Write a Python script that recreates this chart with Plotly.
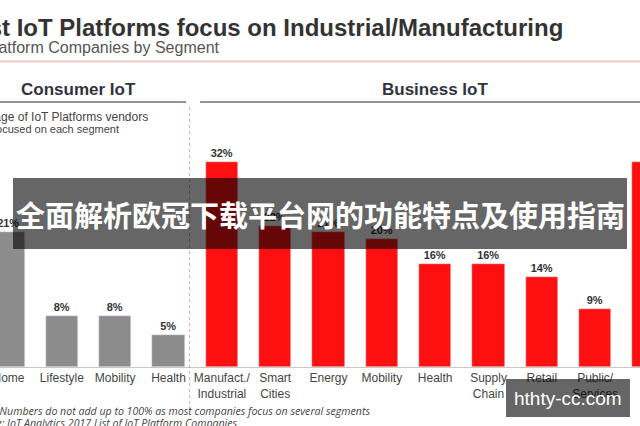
import plotly.graph_objects as go

# ---- data ----
consumer_cats = ["Home", "Lifestyle", "Mobility", "Health"]
consumer_vals = [21, 8, 8, 5]
business_cats = ["Manufact./<br>Industrial", "Smart<br>Cities", "Energy", "Mobility",
                 "Health", "Supply<br>Chain", "Retail", "Public/<br>Services", "Other<br>business"]
business_vals = [32, 22, 21, 20, 16, 16, 14, 9, 32]

title_text = "Most IoT Platforms focus on Industrial/Manufacturing"
subtitle_text = "Share of IoT Platform Companies by Segment"
consumer_header = "Consumer IoT"
business_header = "Business IoT"
note_line1 = "Percentage of IoT Platforms vendors"
note_line2 = "focused on each segment"
foot1 = "Note: Numbers do not add up to 100% as most companies focus on several segments"
foot2 = "Source: IoT Analytics 2017 List of IoT Platform Companies"
banner_text = "全面解析欧冠下载平台网的功能特点及使用指南"
watermark_text = "hthty-cc.com"

W, H = 640, 426
def px(x):
    return x / W
def py(y):
    return 1 - y / H

n_c = len(consumer_cats)
xc = list(range(n_c))
xb = list(range(n_c, n_c + len(business_cats)))

fig = go.Figure()
fig.add_bar(x=xc, y=consumer_vals, marker_color="#8c8c8c", width=0.61,
            text=[f"{v}%" for v in consumer_vals], textposition="outside",
            textfont=dict(family="Liberation Sans", size=11, color="#333333", weight="bold"),
            cliponaxis=False, showlegend=False)
fig.add_bar(x=xb, y=business_vals, marker_color="#fe1010", width=0.61,
            text=[f"{v}%" for v in business_vals], textposition="outside",
            textfont=dict(family="Liberation Sans", size=11, color="#333333", weight="bold"),
            cliponaxis=False, showlegend=False)

baseline = 367
ppu = 6.42
fig.update_layout(
    width=W, height=H, margin=dict(l=0, r=0, t=0, b=0, autoexpand=False),
    paper_bgcolor="white", plot_bgcolor="white", bargap=0,
    xaxis=dict(range=[-0.16, 11.84], tickvals=xc + xb, ticktext=consumer_cats + business_cats,
               tickfont=dict(family="Liberation Sans", size=12, color="#444444"),
               ticklabeloverflow="allow", automargin=False,
               showgrid=False, zeroline=False, showline=True, linecolor="#c8c8c8", linewidth=1,
               ticks="", fixedrange=True),
    yaxis=dict(domain=[(H - baseline) / H, 1], range=[0, baseline / ppu], visible=False,
               showgrid=False, zeroline=False, fixedrange=True, automargin=False),
    font=dict(family="Liberation Sans"),
)

shapes = [
    dict(type="line", xref="paper", yref="paper", x0=0, x1=1, y0=py(61.5), y1=py(61.5),
         line=dict(color="#ecc8c8", width=2)),
    dict(type="line", xref="paper", yref="paper", x0=0, x1=px(186), y0=py(102), y1=py(102),
         line=dict(color="rgba(110,110,135,0.75)", width=2)),
    dict(type="line", xref="paper", yref="paper", x0=px(200), x1=1, y0=py(102), y1=py(102),
         line=dict(color="rgba(110,110,135,0.75)", width=2)),
    dict(type="line", xref="paper", yref="paper", x0=px(189.5), x1=px(189.5), y0=py(107), y1=py(412),
         line=dict(color="rgba(200,130,130,0.7)", width=1, dash="dot")),
    dict(type="rect", xref="paper", yref="paper", x0=px(13), x1=px(627), y0=py(178), y1=py(249),
         fillcolor="rgba(0,0,0,0.6)", line=dict(width=0), layer="above"),
    dict(type="rect", xref="paper", yref="paper", x0=px(506), x1=px(630), y0=py(379), y1=py(417),
         fillcolor="rgba(0,0,0,0.6)", line=dict(width=0), layer="above"),
]
fig.update_layout(shapes=shapes)

def ann(text, x, y, xanchor="left", size=12, color="#333333", family="Liberation Sans",
        weight="normal", style="normal"):
    fig.add_annotation(text=text, xref="paper", yref="paper", x=px(x), y=py(y),
                       xanchor=xanchor, yanchor="middle", showarrow=False,
                       font=dict(size=size, color=color, family=family, weight=weight, style=style))

ann(title_text, 565, 27, xanchor="right", size=24, color="#333333", weight="bold")
ann(subtitle_text, 222, 47, xanchor="right", size=16, color="#555555")
ann(consumer_header, 78, 90, xanchor="center", size=17, color="#333340", weight="bold")
ann(business_header, 435, 90, xanchor="center", size=17, color="#333340", weight="bold")
ann(note_line1, 150, 117, xanchor="right", size=12, color="#444444")
ann(note_line2, 121, 129, xanchor="right", size=11, color="#444444")
ann(foot1, 372, 411, xanchor="right", size=10.6, color="#444444", family="Open Sans", style="italic")
ann(foot2, 240, 423, xanchor="right", size=10.6, color="#444444", family="Open Sans", style="italic")
ann(banner_text, 320, 214, xanchor="center", size=29, color="white",
    family="Noto Sans CJK SC", weight="bold")
ann(watermark_text, 568, 398, xanchor="center", size=19, color="white", family="Liberation Sans")

fig.write_html("out.html", config={"displayModeBar": False},
               post_script="document.body.style.margin='0';")
